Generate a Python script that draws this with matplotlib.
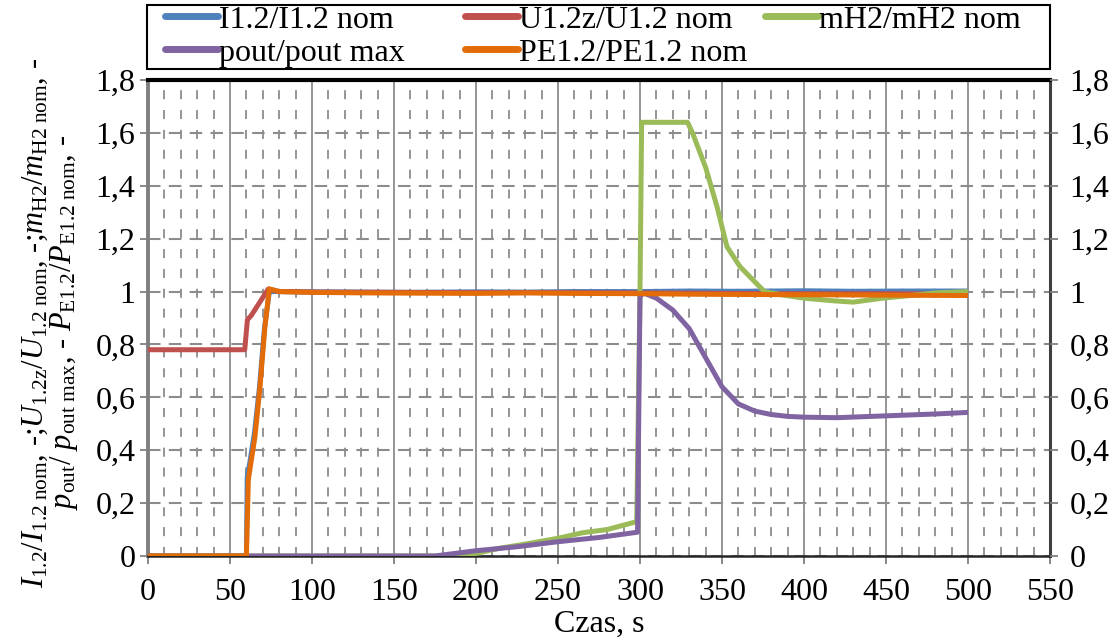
import matplotlib
matplotlib.use("Agg")
import matplotlib.pyplot as plt
from matplotlib.ticker import MultipleLocator
from matplotlib.patches import Rectangle
from matplotlib.lines import Line2D

plt.rcParams['font.family'] = ['Liberation Serif', 'DejaVu Serif']
plt.rcParams['mathtext.fontset'] = 'custom'
plt.rcParams['mathtext.rm'] = 'Liberation Serif'
plt.rcParams['mathtext.it'] = 'Liberation Serif:italic'
plt.rcParams['mathtext.bf'] = 'Liberation Serif:bold'

# ---- data ----
t_I = [0, 60, 60.5, 62, 65, 68, 71, 74, 80, 100, 130, 160, 200, 230, 260, 300, 330, 360, 400, 430, 460, 500]
v_I = [0, 0, 0.30, 0.35, 0.47, 0.64, 0.86, 1.0, 1.0, 0.999, 0.998, 0.997, 0.999, 0.998, 1.0, 1.0, 1.002, 1.001, 1.003, 1.001, 1.002, 1.002]

t_U = [0, 59, 60.6, 63, 73.4, 80, 100, 150, 200, 250, 300, 350, 400, 450, 500]
v_U = [0.78, 0.78, 0.893, 0.91, 1.01, 1.0, 0.998, 0.997, 0.996, 0.996, 0.995, 0.993, 0.992, 0.992, 0.99]

t_m = [0, 185, 200, 215, 230, 250, 265, 280, 298, 300, 301, 329, 332, 340, 347, 353, 361, 367, 373, 376, 387, 400, 418, 430, 448, 465, 480, 500]
v_m = [0, 0, 0.01, 0.03, 0.045, 0.067, 0.088, 0.10, 0.13, 1.0, 1.64, 1.64, 1.60, 1.47, 1.32, 1.17, 1.094, 1.056, 1.018, 1.0, 0.987, 0.975, 0.965, 0.96, 0.975, 0.985, 0.995, 1.0]

t_p = [0, 175, 200, 225, 250, 275, 298.5, 300, 302, 310, 320, 330, 340, 350, 360, 370, 380, 390, 400, 420, 450, 480, 500]
v_p = [0, 0, 0.02, 0.035, 0.054, 0.07, 0.09, 0.98, 0.995, 0.975, 0.93, 0.86, 0.75, 0.64, 0.575, 0.548, 0.535, 0.528, 0.525, 0.523, 0.53, 0.537, 0.543]

t_P = [0, 60, 61.2, 65.2, 68.3, 71.3, 74, 80, 100, 130, 160, 200, 230, 260, 300, 330, 360, 400, 430, 460, 500]
v_P = [0, 0, 0.29, 0.45, 0.64, 0.867, 1.01, 1.0, 0.997, 0.995, 0.994, 0.993, 0.995, 0.993, 0.992, 0.99, 0.989, 0.988, 0.987, 0.986, 0.985]

labels = ['I1.2/I1.2 nom', 'U1.2z/U1.2 nom', 'mH2/mH2 nom', 'pout/pout max', 'PE1.2/PE1.2 nom']
colors = ['#4F81BD', '#C0504D', '#9BBB59', '#8064A2', '#E36C09']

x_ticks = list(range(0, 551, 50))
y_ticks = [0, 0.2, 0.4, 0.6, 0.8, 1.0, 1.2, 1.4, 1.6, 1.8]
y_ticklabels = ['0', '0,2', '0,4', '0,6', '0,8', '1', '1,2', '1,4', '1,6', '1,8']

# ---- figure ----
W, H = 1112, 639
fig = plt.figure(figsize=(W / 100, H / 100), dpi=100)
ax = fig.add_axes([148 / W, 1 - 556 / H, (1050 - 148) / W, (556 - 80) / H])

series = [(t_I, v_I), (t_U, v_U), (t_m, v_m), (t_p, v_p), (t_P, v_P)]
handles = []
for (t, v), lab, c in zip(series, labels, colors):
    h, = ax.plot(t, v, color=c, lw=3.6, label=lab, solid_joinstyle='round',
                 solid_capstyle='butt', zorder=3)
    handles.append(h)

ax.set_xlim(0, 550)
ax.set_ylim(0, 1.8)
ax.set_xticks(x_ticks)
ax.set_xticklabels([str(x) for x in x_ticks])
ax.xaxis.set_minor_locator(MultipleLocator(10))
ax.set_yticks(y_ticks)
ax.set_yticklabels(y_ticklabels)

# grid
ax.grid(which='major', axis='x', color='#8C8C8C', lw=1.3, ls='-', zorder=1)
ax.grid(which='minor', axis='x', color='#8C8C8C', lw=1.3, ls=(0, (5, 6)), zorder=1)
ax.grid(which='major', axis='y', color='#8C8C8C', lw=1.5, ls=(0, (6, 4)), zorder=1)

ax.tick_params(axis='both', which='major', labelsize=23, direction='out', length=6, width=1.3, color='#808080')
ax.tick_params(axis='x', which='minor', length=0)
ax.tick_params(axis='x', pad=10)
ax.tick_params(axis='y', pad=3)

for side, col, lw in [('left', '#7F7F7F', 2.8), ('bottom', '#262626', 1.8),
                      ('top', '#000000', 3.0), ('right', '#404040', 2.2)]:
    ax.spines[side].set_color(col)
    ax.spines[side].set_linewidth(lw)

# right axis duplicate
ax2 = ax.twinx()
ax2.set_ylim(0, 1.8)
ax2.set_yticks(y_ticks)
ax2.set_yticklabels(y_ticklabels)
ax2.tick_params(axis='y', labelsize=23, direction='out', length=6, width=1.3, color='#808080', pad=8)
for s in ax2.spines.values():
    s.set_visible(False)

ax.set_xlabel('Czas, s', fontsize=23, labelpad=2)
ylab = (r'$I_{\rm 1.2}/I_{\rm 1.2\ nom}$, -;$U_{\rm 1.2z}/U_{\rm 1.2\ nom}$, -;$m_{\rm H2}/m_{\rm H2\ nom}$, -'
        '\n'
        r'$p_{\rm out}/\ p_{\rm out\ max}$, - $P_{\rm E1.2}/P_{\rm E1.2\ nom}$, -')
ax.set_ylabel(ylab, fontsize=22, linespacing=0.9)
ax.yaxis.set_label_coords((80 - 148) / (1050 - 148), 0.49)

# ---- legend: Excel-style fixed-width columns inside one frame ----
frame = Rectangle((147 / W, 1 - 69 / H), (1050 - 147) / W, (69 - 5) / H,
                  transform=fig.transFigure, fill=False, edgecolor='black', lw=1.5)
fig.add_artist(frame)
entry_pos = [(165, 20), (465, 20), (765, 20), (165, 53), (465, 53)]
for (px, py), h, lab in zip(entry_pos, handles, labels):
    proxy = Line2D([], [], color=h.get_color(), lw=5, solid_capstyle='round')
    lg = fig.legend([proxy], [lab], loc='center left',
                    bbox_to_anchor=(px / W, 1 - py / H), fontsize=23, frameon=False,
                    handlelength=1.65, handletextpad=0.05, borderpad=0, borderaxespad=0)

fig.savefig('out.png', dpi=100)
